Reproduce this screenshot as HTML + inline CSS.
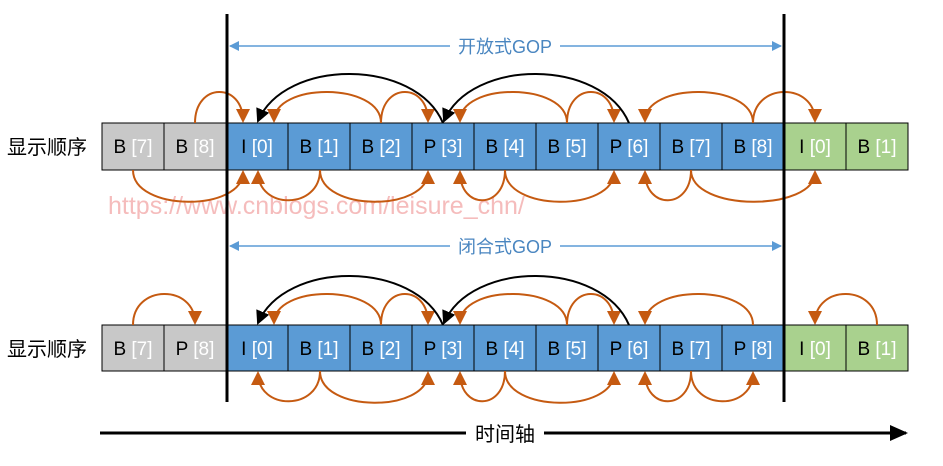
<!DOCTYPE html>
<html><head><meta charset="utf-8"><style>
body{margin:0;background:#fff;}
svg text{font-family:"Liberation Sans","Noto Sans CJK SC",sans-serif;}
</style></head><body>
<svg width="943" height="461" viewBox="0 0 943 461" xmlns="http://www.w3.org/2000/svg">
<defs>
<marker id="ao" markerWidth="14" markerHeight="14" refX="12" refY="7" orient="auto" markerUnits="userSpaceOnUse"><path d="M0,0 L14,7 L0,14 z" fill="#c55a11"/></marker>
<marker id="ak" markerWidth="14" markerHeight="14" refX="12" refY="7" orient="auto" markerUnits="userSpaceOnUse"><path d="M0,0 L14,7 L0,14 z" fill="#000"/></marker>
<marker id="ab" markerWidth="10" markerHeight="10" refX="9" refY="5" orient="auto" markerUnits="userSpaceOnUse"><path d="M0,0 L10,5 L0,10 z" fill="#5b9bd5"/></marker>
<marker id="ab2" markerWidth="10" markerHeight="10" refX="1" refY="5" orient="auto" markerUnits="userSpaceOnUse"><path d="M10,0 L0,5 L10,10 z" fill="#5b9bd5"/></marker>
<marker id="at" markerWidth="18" markerHeight="16" refX="16" refY="8" orient="auto" markerUnits="userSpaceOnUse"><path d="M0,0 L18,8 L0,16 z" fill="#000"/></marker>
</defs>

<text x="108" y="214" font-size="25" fill="#f5bcbc">https://www.cnblogs.com/leisure_chn/</text>

<line x1="230" y1="46" x2="781" y2="46" stroke="#5b9bd5" stroke-width="1.5" marker-end="url(#ab)" marker-start="url(#ab2)"/>
<rect x="450" y="34" width="110" height="24" fill="#fff"/>
<text x="505" y="53" font-size="18" fill="#4a86c0" text-anchor="middle">开放式GOP</text>
<line x1="230" y1="246" x2="781" y2="246" stroke="#5b9bd5" stroke-width="1.5" marker-end="url(#ab)" marker-start="url(#ab2)"/>
<rect x="450" y="234" width="110" height="24" fill="#fff"/>
<text x="505" y="253" font-size="18" fill="#4a86c0" text-anchor="middle">闭合式GOP</text>

<text x="7" y="154" font-size="20" fill="#000">显示顺序</text>
<text x="7" y="356" font-size="20" fill="#000">显示顺序</text>

<g stroke="#000" stroke-width="1">
<rect x="102" y="123" width="62" height="47" fill="#c8c8c8"/>
<rect x="164" y="123" width="62" height="47" fill="#c8c8c8"/>
<rect x="226" y="123" width="62" height="47" fill="#5b9bd5"/>
<rect x="288" y="123" width="62" height="47" fill="#5b9bd5"/>
<rect x="350" y="123" width="62" height="47" fill="#5b9bd5"/>
<rect x="412" y="123" width="62" height="47" fill="#5b9bd5"/>
<rect x="474" y="123" width="62" height="47" fill="#5b9bd5"/>
<rect x="536" y="123" width="62" height="47" fill="#5b9bd5"/>
<rect x="598" y="123" width="62" height="47" fill="#5b9bd5"/>
<rect x="660" y="123" width="62" height="47" fill="#5b9bd5"/>
<rect x="722" y="123" width="62" height="47" fill="#5b9bd5"/>
<rect x="784" y="123" width="62" height="47" fill="#a9d18e"/>
<rect x="846" y="123" width="62" height="47" fill="#a9d18e"/>
</g>
<g font-size="19" text-anchor="middle">
<text x="133" y="153">B <tspan fill="#fff">[7]</tspan></text>
<text x="195" y="153">B <tspan fill="#fff">[8]</tspan></text>
<text x="257" y="153">I <tspan fill="#fff">[0]</tspan></text>
<text x="319" y="153">B <tspan fill="#fff">[1]</tspan></text>
<text x="381" y="153">B <tspan fill="#fff">[2]</tspan></text>
<text x="443" y="153">P <tspan fill="#fff">[3]</tspan></text>
<text x="505" y="153">B <tspan fill="#fff">[4]</tspan></text>
<text x="567" y="153">B <tspan fill="#fff">[5]</tspan></text>
<text x="629" y="153">P <tspan fill="#fff">[6]</tspan></text>
<text x="691" y="153">B <tspan fill="#fff">[7]</tspan></text>
<text x="753" y="153">B <tspan fill="#fff">[8]</tspan></text>
<text x="815" y="153">I <tspan fill="#fff">[0]</tspan></text>
<text x="877" y="153">B <tspan fill="#fff">[1]</tspan></text>
</g>

<g stroke="#000" stroke-width="1">
<rect x="102" y="325" width="62" height="46" fill="#c8c8c8"/>
<rect x="164" y="325" width="62" height="46" fill="#c8c8c8"/>
<rect x="226" y="325" width="62" height="46" fill="#5b9bd5"/>
<rect x="288" y="325" width="62" height="46" fill="#5b9bd5"/>
<rect x="350" y="325" width="62" height="46" fill="#5b9bd5"/>
<rect x="412" y="325" width="62" height="46" fill="#5b9bd5"/>
<rect x="474" y="325" width="62" height="46" fill="#5b9bd5"/>
<rect x="536" y="325" width="62" height="46" fill="#5b9bd5"/>
<rect x="598" y="325" width="62" height="46" fill="#5b9bd5"/>
<rect x="660" y="325" width="62" height="46" fill="#5b9bd5"/>
<rect x="722" y="325" width="62" height="46" fill="#5b9bd5"/>
<rect x="784" y="325" width="62" height="46" fill="#a9d18e"/>
<rect x="846" y="325" width="62" height="46" fill="#a9d18e"/>
</g>
<g font-size="19" text-anchor="middle">
<text x="133" y="355">B <tspan fill="#fff">[7]</tspan></text>
<text x="195" y="355">P <tspan fill="#fff">[8]</tspan></text>
<text x="257" y="355">I <tspan fill="#fff">[0]</tspan></text>
<text x="319" y="355">B <tspan fill="#fff">[1]</tspan></text>
<text x="381" y="355">B <tspan fill="#fff">[2]</tspan></text>
<text x="443" y="355">P <tspan fill="#fff">[3]</tspan></text>
<text x="505" y="355">B <tspan fill="#fff">[4]</tspan></text>
<text x="567" y="355">B <tspan fill="#fff">[5]</tspan></text>
<text x="629" y="355">P <tspan fill="#fff">[6]</tspan></text>
<text x="691" y="355">B <tspan fill="#fff">[7]</tspan></text>
<text x="753" y="355">P <tspan fill="#fff">[8]</tspan></text>
<text x="815" y="355">I <tspan fill="#fff">[0]</tspan></text>
<text x="877" y="355">B <tspan fill="#fff">[1]</tspan></text>
</g>

<g fill="none" stroke="#c55a11" stroke-width="2" marker-end="url(#ao)">
<path d="M195 123 C195 82 243 82 243 121"/>
<path d="M381 123 C381 82 274 82 274 121"/>
<path d="M381 123 C381 82 428 82 428 121"/>
<path d="M567 123 C567 82 460 82 460 121"/>
<path d="M567 123 C567 82 614 82 614 121"/>
<path d="M753 123 C753 82 645 82 645 121"/>
<path d="M753 123 C753 82 815 82 815 121"/>
<path d="M133 170 C133 212 243 212 243 172"/>
<path d="M320 170 C320 210 258 210 258 172"/>
<path d="M320 170 C320 212 428 212 428 172"/>
<path d="M505 170 C505 210 460 210 460 172"/>
<path d="M505 170 C505 212 614 212 614 172"/>
<path d="M691 170 C691 210 645 210 645 172"/>
<path d="M691 170 C691 212 815 212 815 172"/>
</g>
<g fill="none" stroke="#000" stroke-width="2" marker-end="url(#ak)">
<path d="M443 123 C415 58 285 58 258 121"/>
<path d="M629 123 C601 58 471 58 444 121"/>
</g>

<g fill="none" stroke="#c55a11" stroke-width="2" marker-end="url(#ao)">
<path d="M133 325 C133 284 195 284 195 323"/>
<path d="M381 325 C381 284 274 284 274 323"/>
<path d="M381 325 C381 284 428 284 428 323"/>
<path d="M567 325 C567 284 460 284 460 323"/>
<path d="M567 325 C567 284 614 284 614 323"/>
<path d="M753 325 C753 284 645 284 645 323"/>
<path d="M877 325 C877 284 815 284 815 323"/>
<path d="M320 371 C320 411 258 411 258 373"/>
<path d="M320 371 C320 413 428 413 428 373"/>
<path d="M505 371 C505 411 460 411 460 373"/>
<path d="M505 371 C505 413 614 413 614 373"/>
<path d="M691 371 C691 411 645 411 645 373"/>
<path d="M691 371 C691 411 753 411 753 373"/>
</g>
<g fill="none" stroke="#000" stroke-width="2" marker-end="url(#ak)">
<path d="M443 325 C415 260 285 260 258 323"/>
<path d="M629 325 C601 260 471 260 444 323"/>
</g>

<line x1="227" y1="14" x2="227" y2="402" stroke="#000" stroke-width="3"/>
<line x1="784" y1="14" x2="784" y2="402" stroke="#000" stroke-width="3"/>

<line x1="100" y1="433" x2="906" y2="433" stroke="#000" stroke-width="3" marker-end="url(#at)"/>
<rect x="466" y="420" width="78" height="26" fill="#fff"/>
<text x="505" y="441" font-size="20" text-anchor="middle">时间轴</text>
</svg>
</body></html>
